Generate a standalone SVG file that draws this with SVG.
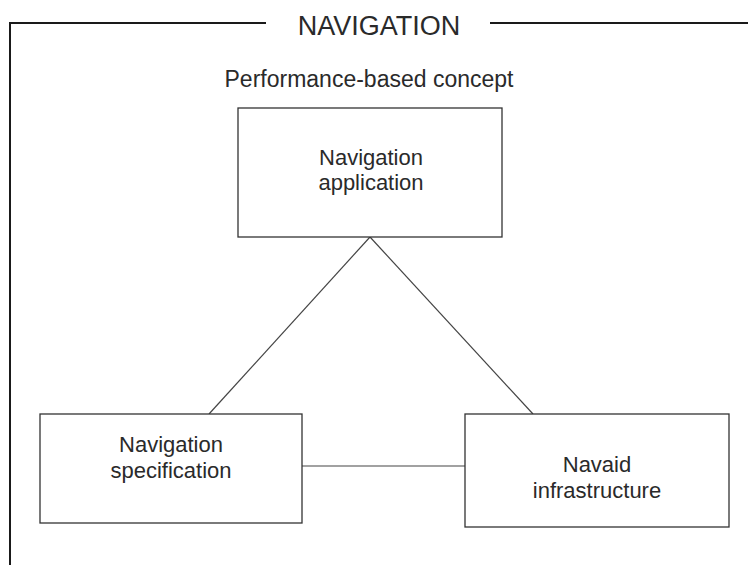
<svg xmlns="http://www.w3.org/2000/svg" width="748" height="565" viewBox="0 0 748 565">
<style>
.frame{fill:none;stroke:#1a1a1a;stroke-width:2}
.box{fill:#fff;stroke:#333;stroke-width:1.3}
.conn{fill:none;stroke:#444;stroke-width:1.2}
text{font-family:"Liberation Sans",Arial,sans-serif;fill:#2a2a2a;text-anchor:middle}
.title{font-size:27px}
.sub{font-size:23px}
.lbl{font-size:22px}
</style>
<rect width="748" height="565" fill="#fff"/>
<g id="frame">
<path class="frame" d="M10,565 V23 H266 M490,23 H748"/>
<text class="title" x="379" y="35">NAVIGATION</text>
<text class="sub" x="369" y="87">Performance-based concept</text>
</g>
<g id="connectors">
<line class="conn" x1="370" y1="237" x2="209" y2="414"/>
<line class="conn" x1="370" y1="237" x2="533" y2="414"/>
<line class="conn" x1="302" y1="466" x2="465" y2="466"/>
</g>
<g id="nav-application">
<rect class="box" x="238" y="108" width="264" height="129"/>
<text class="lbl" x="371" y="165">Navigation</text>
<text class="lbl" x="371" y="190">application</text>
</g>
<g id="nav-specification">
<rect class="box" x="40" y="414" width="262" height="109"/>
<text class="lbl" x="171" y="452">Navigation</text>
<text class="lbl" x="171" y="478">specification</text>
</g>
<g id="navaid-infrastructure">
<rect class="box" x="465" y="414" width="264" height="113"/>
<text class="lbl" x="597" y="472">Navaid</text>
<text class="lbl" x="597" y="498">infrastructure</text>
</g>
</svg>
